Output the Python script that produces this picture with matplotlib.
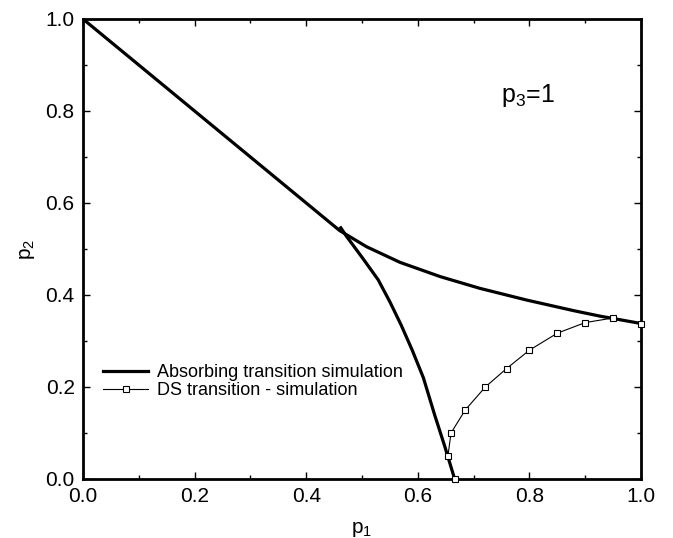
import numpy as np
import matplotlib
matplotlib.use("Agg")
import matplotlib.pyplot as plt
from matplotlib.ticker import MultipleLocator

plt.rcParams['font.family'] = ['Liberation Sans', 'DejaVu Sans']
plt.rcParams['mathtext.fontset'] = 'custom'
plt.rcParams['mathtext.rm'] = 'Liberation Sans'
plt.rcParams['mathtext.it'] = 'Liberation Sans'

# absorbing transition line (upper branch, from (0,1) to (1,0.338))
abs_p1 = [0.0, 0.46, 0.508, 0.568, 0.64, 0.711, 0.795, 0.879, 0.9265, 1.0]
abs_p2 = [1.0, 0.54, 0.505, 0.471, 0.44, 0.4145, 0.389, 0.366, 0.354, 0.338]

# absorbing transition, lower branch down to the p1 axis
low_p1 = [0.462, 0.4725, 0.50, 0.529, 0.55, 0.57, 0.59, 0.61, 0.63, 0.648, 0.666]
low_p2 = [0.546, 0.527, 0.482, 0.433, 0.385, 0.335, 0.28, 0.22, 0.14, 0.072, 0.0]

# DS transition - simulation
ds_p1 = [0.666, 0.654, 0.6595, 0.685, 0.721, 0.759, 0.80, 0.85, 0.90, 0.95, 1.0]
ds_p2 = [0.0, 0.05, 0.10, 0.15, 0.20, 0.24, 0.28, 0.317, 0.34, 0.35, 0.338]

fig = plt.figure(figsize=(6.73, 5.38), dpi=100)
ax = fig.add_axes([0.1233, 0.1097, 0.8292, 0.855])

ax.plot(abs_p1, abs_p2, color='black', lw=2.3, label='Absorbing transition simulation')
ax.plot(low_p1, low_p2, color='black', lw=2.3)
ax.plot(ds_p1, ds_p2, color='black', lw=0.8, marker='s', markersize=4,
        markerfacecolor='white', markeredgecolor='black', markeredgewidth=0.8,
        clip_on=False, zorder=5, label='DS transition - simulation')

ax.set_xlim(0, 1)
ax.set_ylim(0, 1)
ax.xaxis.set_major_locator(MultipleLocator(0.2))
ax.yaxis.set_major_locator(MultipleLocator(0.2))
ax.xaxis.set_minor_locator(MultipleLocator(0.1))
ax.yaxis.set_minor_locator(MultipleLocator(0.1))
ax.xaxis.set_major_formatter(matplotlib.ticker.FormatStrFormatter('%.1f'))
ax.yaxis.set_major_formatter(matplotlib.ticker.FormatStrFormatter('%.1f'))
ax.tick_params(which='both', direction='in', top=True, right=True, labelsize=15, width=1)
ax.tick_params(which='major', length=5, pad=6)
ax.tick_params(which='minor', length=3)
for s in ax.spines.values():
    s.set_linewidth(2)

ax.set_xlabel('p$_1$', fontsize=15, labelpad=10)
ax.set_ylabel('p$_2$', fontsize=15, labelpad=6)

ax.text(0.749, 0.833, 'p$_3$=1', fontsize=18, va='center', ha='left')

ax.legend(loc='upper left', bbox_to_anchor=(0.036, 0.25), frameon=False,
          fontsize=13, borderpad=0, borderaxespad=0, handlelength=2.5,
          handletextpad=0.5, labelspacing=0.05)

fig.savefig('out.png', dpi=100)
